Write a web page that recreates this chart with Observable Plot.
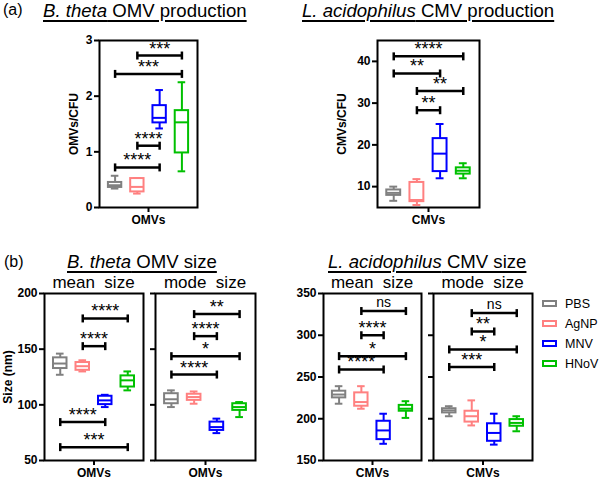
<!DOCTYPE html>
<html><head><meta charset="utf-8">
<script src="https://cdn.jsdelivr.net/npm/d3@7"></script>
<script src="https://cdn.jsdelivr.net/npm/@observablehq/plot@0.6"></script>
<style>
body{margin:0;background:#fff;font-family:"Liberation Sans",Arial,sans-serif;}
#root{position:relative;width:600px;height:480px;overflow:hidden;background:#fff;}
.abs{position:absolute;white-space:nowrap;color:#000;}
.title{font-size:18.6px;text-decoration:underline;text-decoration-thickness:1.5px;text-underline-offset:3px;}
.sub{font-size:17px;text-align:center;}
.leg{font-size:12.5px;}
.sw{position:absolute;width:11px;height:3px;border:2px solid;}
</style></head><body><div id="root"></div>
<script>
const FONT = "Liberation Sans, Arial, sans-serif";
const groups = ["PBS", "AgNP", "MNV", "HNoV"];
const groupColors = ["#808080", "#ff8080", "#0000ff", "#00c000"];

// box statistics per group: [min, q1, median, q3, max]
const omvProductionStats = [[0.34,0.36,0.40,0.45,0.57],[0.25,0.28,0.37,0.52,0.53],[1.42,1.52,1.61,1.83,2.11],[0.65,0.98,1.53,1.74,2.25]];
const cmvProductionStats = [[6.6,7.9,8.5,9.2,10.0],[5.6,6.4,6.8,11.0,11.8],[12.0,13.6,17.9,21.5,25.0],[12.0,13.0,13.8,14.5,15.6]];
const omvMeanStats = [[127,132.6,137.1,142.2,146],[130,131,134.7,138,140],[98,100.2,104,107.7,109],[113,116,122,126,130]];
const omvModeStats = [[98,101,105,110,113],[101,104,107,109.5,112],[74.6,77,80,84.5,87.6],[89,95,98,101,102.5]];
const cmvMeanStats = [[218,225,229,233,239],[212,215,220,231,239],[170,175,186,197,206],[201,209,212,216,221]];
const cmvModeStats = [[203,207,210,212,215],[192,196,203,209,222],[169,173,183,194,206],[185,191,195,199,203]];

// significance brackets: [from group index, to group index, y value, label]
const omvProductionSig = [[1,3,2.73,"***"],[0,3,2.40,"***"],[1,2,1.11,"****"],[0,2,0.72,"****"]];
const cmvProductionSig = [[0,3,41.2,"****"],[0,2,37.1,"**"],[1,3,32.9,"**"],[1,2,28.3,"**"]];
const omvMeanSig = [[1,3,177.6,"****"],[1,2,152.7,"****"],[0,2,84.5,"****"],[0,3,62,"***"]];
const omvModeSig = [[1,3,181.5,"**"],[1,2,161.7,"****"],[0,3,143.7,"*"],[0,2,127.2,"****"]];
const cmvMeanSig = [[1,3,329,"ns"],[1,2,300,"****"],[0,3,275,"*"],[0,2,259,"****"]];
const cmvModeSig = [[1,3,326.5,"ns"],[1,2,304.5,"**"],[0,3,283,"*"],[0,2,262,"***"]];

const ticksProduction = [0,1,2,3];
const ticksCmvProduction = [10,20,30,40];
const ticksOmvSize = [50,100,150,200];
const ticksCmvSize = [150,200,250,300,350];

const root = document.getElementById("root");

const capSymbol = {draw(ctx, size){ const h = Math.sqrt(size/Math.PI); ctx.moveTo(0,-h); ctx.lineTo(0,h); }};

function drawPanel(p){
  const [fl, ft, fr, fb] = p.frame;
  const mL = 50, mR = 6, mT = 6, mB = 26;
  const rows = groups.map((g,i)=>({g, i, min:p.stats[i][0], q1:p.stats[i][1], med:p.stats[i][2], q3:p.stats[i][3], max:p.stats[i][4]}));
  const sig = p.sig.map(([a,b,y,label])=>({a,b,y,label}));
  const center = d3.mean(rows, d=>d.i);
  const bw = 0.3, cw = 0.17;
  const plot = Plot.plot({
    width: fr-fl+mL+mR, height: fb-ft+mT+mB,
    marginLeft: mL, marginRight: mR, marginTop: mT, marginBottom: mB,
    style: {fontFamily: FONT, background: "transparent", overflow: "visible", color: "black"},
    x: {domain: [-0.7, 3.7]},
    y: {domain: p.yDomain},
    color: {domain: groups, range: groupColors},
    marks: [
      Plot.axisY({ticks: p.yTicks, tickSize: 5, tickPadding: 2, strokeWidth: 2, fontWeight: "bold", fontSize: 12,
        tickFormat: p.tickLabels ? (d=>String(d)) : (()=>""), label: p.yLabel || null, labelAnchor: "center", labelArrow: "none", labelOffset: p.labelOffset || 30}),
      Plot.axisX({ticks: [center], tickFormat: ()=>p.category, tickSize: 5, tickPadding: 3, strokeWidth: 2, fontWeight: "bold", fontSize: 12, label: null}),
      Plot.ruleX(rows, {x:"i", y1:"q3", y2:"max", stroke:"g", strokeWidth:2}),
      Plot.ruleX(rows, {x:"i", y1:"min", y2:"q1", stroke:"g", strokeWidth:2}),
      Plot.ruleY(rows, {y:"max", x1:d=>d.i-cw, x2:d=>d.i+cw, stroke:"g", strokeWidth:2}),
      Plot.ruleY(rows, {y:"min", x1:d=>d.i-cw, x2:d=>d.i+cw, stroke:"g", strokeWidth:2}),
      Plot.rect(rows, {x1:d=>d.i-bw, x2:d=>d.i+bw, y1:"q1", y2:"q3", stroke:"g", fill:"white", strokeWidth:2}),
      Plot.ruleY(rows, {y:"med", x1:d=>d.i-bw, x2:d=>d.i+bw, stroke:"g", strokeWidth:2}),
      Plot.ruleY(sig, {y:"y", x1:"a", x2:"b", stroke:"black", strokeWidth:2.5}),
      Plot.dot(sig, {x:"a", y:"y", r:4, symbol: capSymbol, fill:"none", stroke:"black", strokeWidth:2.5}),
      Plot.dot(sig, {x:"b", y:"y", r:4, symbol: capSymbol, fill:"none", stroke:"black", strokeWidth:2.5}),
      Plot.text(sig.filter(d=>d.label!=="ns"), {x:d=>(d.a+d.b)/2, y:"y", text:"label", lineAnchor:"bottom", dy:-1, fontSize:18, fontFamily:FONT, fill:"black"}),
      Plot.text(sig.filter(d=>d.label==="ns"), {x:d=>(d.a+d.b)/2, y:"y", text:"label", lineAnchor:"bottom", dy:-4, fontSize:14, fontFamily:FONT, fill:"black"}),
      Plot.frame({stroke:"black", strokeWidth:2})
    ]
  });
  plot.style.position = "absolute";
  plot.style.left = (fl-mL)+"px";
  plot.style.top = (ft-mT)+"px";
  plot.style.maxWidth = "none";
  root.appendChild(plot);
}

const panels = [
  {stats: omvProductionStats, sig: omvProductionSig, yDomain:[0,3], yTicks: ticksProduction, tickLabels:true, yLabel:"OMVs/CFU", labelOffset:30, category:"OMVs", frame:[99,40,197,207]},
  {stats: cmvProductionStats, sig: cmvProductionSig, yDomain:[5,45], yTicks: ticksCmvProduction, tickLabels:true, yLabel:"CMVs/CFU", labelOffset:40, category:"CMVs", frame:[377,40,479,207]},
  {stats: omvMeanStats, sig: omvMeanSig, yDomain:[50,200], yTicks: ticksOmvSize, tickLabels:true, yLabel:"Size (nm)", labelOffset:41, category:"OMVs", frame:[44,293,143,460]},
  {stats: omvModeStats, sig: omvModeSig, yDomain:[50,200], yTicks: ticksOmvSize, tickLabels:false, category:"OMVs", frame:[155,293,255,460]},
  {stats: cmvMeanStats, sig: cmvMeanSig, yDomain:[150,350], yTicks: ticksCmvSize, tickLabels:true, category:"CMVs", frame:[323,293,421,460]},
  {stats: cmvModeStats, sig: cmvModeSig, yDomain:[150,350], yTicks: ticksCmvSize, tickLabels:false, category:"CMVs", frame:[433,293,532,460]}
];
panels.forEach(drawPanel);

function addText(html, cls, left, top, width){
  const d = document.createElement("div");
  d.className = "abs " + cls;
  d.innerHTML = html;
  d.style.left = left+"px"; d.style.top = top+"px";
  if (width) d.style.width = width+"px";
  root.appendChild(d);
}
addText("(a)", "", 3, 1, null); root.lastChild.style.fontSize = "16px";
addText("<i>B. theta</i> OMV production", "title", 43, 0);
addText("<i>L. acidophilus</i> CMV production", "title", 302, 0);
addText("(b)", "", 4, 253, null); root.lastChild.style.fontSize = "16px";
addText("<i>B. theta</i> OMV size", "title", 67, 251);
addText("<i>L. acidophilus</i> CMV size", "title", 328, 251);
addText("mean&nbsp; size", "sub", 44, 273, 99);
addText("mode&nbsp; size", "sub", 155, 273, 100);
addText("mean&nbsp; size", "sub", 323, 273, 98);
addText("mode&nbsp; size", "sub", 433, 273, 99);

// legend
groups.forEach((g,i)=>{
  const sw = document.createElement("div");
  sw.className = "sw";
  sw.style.borderColor = groupColors[i];
  sw.style.left = "542px"; sw.style.top = (300 + i*20)+"px";
  root.appendChild(sw);
  addText(g, "leg", 565, 297 + i*20);
});
</script></body></html>
